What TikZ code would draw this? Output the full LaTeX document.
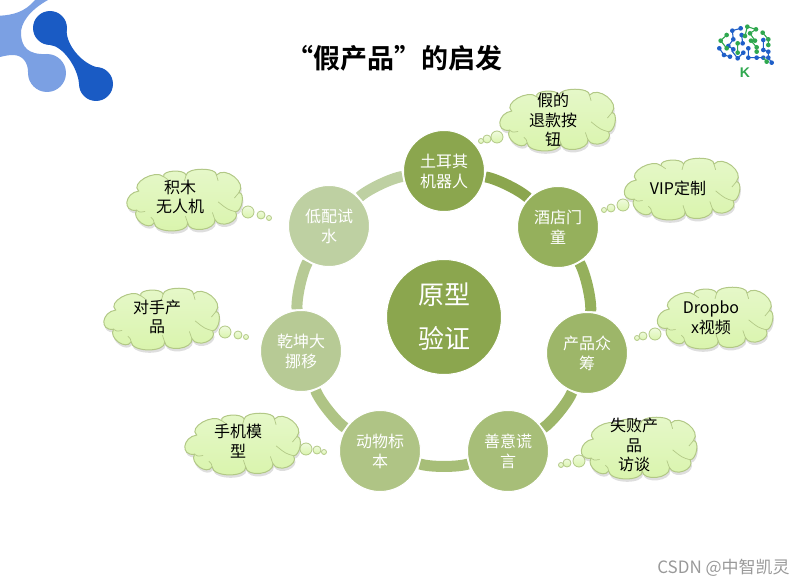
\documentclass[tikz,border=0pt]{standalone}
\usepackage{fontspec}
\setmainfont{Noto Sans CJK SC}
\newfontfamily\cjkb[BoldFont={Noto Sans CJK SC Bold}]{Noto Sans CJK SC}
\setsansfont{Liberation Sans}
\definecolor{ca}{HTML}{8BA64E}
\definecolor{cb}{HTML}{95B05C}
\definecolor{cc}{HTML}{9DB669}
\definecolor{cd}{HTML}{A7BE78}
\definecolor{ce}{HTML}{AFC485}
\definecolor{cf}{HTML}{B7CA95}
\definecolor{cg}{HTML}{BED0A2}
\definecolor{cloudedge}{HTML}{B2C886}
\definecolor{cloudtop}{HTML}{E6F8CA}
\definecolor{cloudmid}{HTML}{F0FBDE}
\definecolor{cloudbot}{HTML}{D9F4AC}
\definecolor{darkblue}{HTML}{1A5BC4}
\definecolor{lightblue}{HTML}{7BA0E3}
\definecolor{brainb}{HTML}{1F5FC8}
\definecolor{braing}{HTML}{2FA84F}
\newcommand{\cloudoutline}{(-47.7,-8.3)
 .. controls (-57,-16.2) and (-31,-31.2) .. (-21.7,-23.3)
 .. controls (-24,-29.8) and (-0.6,-31.5) .. (1.7,-25)
 .. controls (2.7,-33) and (34.3,-33) .. (33.3,-25)
 .. controls (42.2,-34.9) and (65.6,-16.6) .. (56.7,-6.7)
 .. controls (63.4,-6.7) and (60,13.3) .. (53.3,13.3)
 .. controls (58.9,23.3) and (37.3,31.7) .. (31.7,21.7)
 .. controls (32.7,32.8) and (4.3,36.1) .. (3.3,25)
 .. controls (4.5,36) and (-30.5,36) .. (-31.7,25)
 .. controls (-37.2,33.9) and (-55.5,20.6) .. (-50,11.7)
 .. controls (-64.9,13.8) and (-62.6,-6.2) .. (-47.7,-8.3) -- cycle}
\newcommand{\puffcloud}[2]{%
 \begin{scope}[shift={(#1,#2)},scale=.96]
  \fill[black,opacity=.13] [shift={(1,3)}] \cloudoutline;
  \path[top color=cloudtop,middle color=cloudmid,bottom color=cloudbot,draw=cloudedge,line width=1pt] \cloudoutline;
  \draw[cloudedge,line width=.7pt] (-50,11.7) .. controls (-47,14) .. (-41,13)
    (53.3,13.3) .. controls (45,11) .. (35,3)
    (31.7,21.7) .. controls (31,18) .. (29,14)
    (-31.7,25) .. controls (-32,22) .. (-35,19)
    (3.3,25) .. controls (3,21) .. (1,18)
    (56.7,-6.7) .. controls (55,-4) .. (52,-1)
    (33.3,-25) .. controls (34,-22) .. (35,-19)
    (1.7,-25) .. controls (1,-22) .. (0,-19)
    (-21.7,-23.3) .. controls (-20,-21.5) .. (-17,-20);
 \end{scope}}
\tikzset{
  x=1pt,y=-1pt,
  petal/.style={circle,draw=white,line width=1pt,minimum size=81pt,inner sep=0pt,align=center,text=white,font=\fontsize{16}{20}\selectfont},
  hub/.style={circle,draw=white,line width=1pt,minimum size=115pt,inner sep=0pt,align=center,text=white,font=\fontsize{26}{44}\selectfont,fill=ca},
  ringseg/.style={line width=11pt,shorten >=1pt,shorten <=1pt,bend left=18,looseness=.6},
  bub/.style={circle,draw=cloudedge,line width=.8pt,top color=cloudmid,bottom color=cloudbot,inner sep=0pt},
  bubl/.style={bub,minimum size=12pt},
  bubm/.style={bub,minimum size=8pt},
  bubs/.style={bub,minimum size=5pt},
  ctext/.style={align=center,text=black,font=\fontsize{16}{19.5}\selectfont},
}
\begin{document}
\begin{tikzpicture}
\useasboundingbox (0,0) rectangle (807,586);
% logo top-left
\fill[lightblue] (47,73) circle (19);
\fill[lightblue] (0,15.7) .. controls (13,15) and (25,12) .. (35,0) -- (48,0) .. controls (30,10) and (20,23) .. (21,35) .. controls (22,47) and (28,55) .. (47,54) -- (47,73) -- (28,72) .. controls (28,63) and (23,55) .. (13,55) .. controls (8,55) and (4,56) .. (0,57) -- cycle;
\fill[darkblue] (50,28) circle (17) (96,84) circle (17);
\fill[darkblue] (66.7,28) .. controls (65,43) and (80,62) .. (96,67) -- (79,84) .. controls (78,68) and (63,46) .. (50,45) -- cycle;
% title
\node[font=\cjkb\fontsize{27}{30}\selectfont\bfseries,text=black] (title) at (394.5,58) {“假产品”的启发};
% brain logo
\begin{scope}[shift={(700,10)},x=0.3333pt,y=-0.3333pt]
\draw[brainb,line width=1.1pt] (122,55)--(97,62)--(100,88)--(85,108)--(100,118) (58,115)--(72,135)--(90,140) (95,122)--(113,145)--(130,128) (145,115)--(145,143)--(190,143) (190,90)--(190,120)--(205,125)--(205,143)--(215,158) (125,75)--(128,100);
\foreach \p in {(122,55),(97,62),(100,88),(85,108),(100,118),(58,115),(72,135),(90,140),(113,145),(130,128),(145,115),(145,143),(170,143),(190,143),(190,90),(190,120),(205,125),(205,143),(215,158),(125,75),(128,100)}
  \fill[brainb] \p circle (7);
\draw[braing,line width=1.1pt] (80,75)--(62,92)--(80,115) (113,100)--(113,128) (135,78)--(142,50)--(168,58)--(150,70)--(165,92) (188,68)--(205,88)--(205,105) (153,92)--(170,112)--(170,125) (190,143)--(200,155);
\foreach \p in {(80,75),(62,92),(80,115),(113,100),(113,128),(135,78),(142,50),(168,58),(150,70),(165,92),(188,68),(205,88),(205,105),(153,92),(170,112),(170,125),(200,155)}
  \fill[braing] \p circle (7);
\node[font=\sffamily\fontsize{14}{14}\selectfont\bfseries,text=braing,inner sep=0pt] (k) at (135,188) {K};
\end{scope}
% petals
\node[hub,text depth=2pt] (hub) at (444,317) {原型\\验证};
\node[petal,fill=ca] (p1) at (444,171) {土耳其\\机器人};
\node[petal,fill=cb] (p2) at (558,227) {酒店门\\童};
\node[petal,fill=cc] (p3) at (587,353) {产品众\\筹};
\node[petal,fill=cd] (p4) at (508,451) {善意谎\\言};
\node[petal,fill=ce] (p5) at (380,451) {动物标\\本};
\node[petal,fill=cf] (p6) at (301,351) {乾坤大\\挪移};
\node[petal,fill=cg] (p7) at (329,226) {低配试\\水};
% ring
\draw[ringseg,ca] (p1) to (p2);
\draw[ringseg,cb] (p2) to (p3);
\draw[ringseg,cc] (p3) to (p4);
\draw[ringseg,cd] (p4) to (p5);
\draw[ringseg,ce] (p5) to (p6);
\draw[ringseg,cf] (p6) to (p7);
\draw[ringseg,cg] (p7) to (p1);
% clouds
\puffcloud{557.5}{119}
\node[ctext] (t1) at (553,120) {假的\\退款按\\钮};
\node[bubl] (c1a) at (497,137) {};
\node[bubm] (c1b) at (487,139) {};
\node[bubs] (c1c) at (481,141) {};
\puffcloud{682}{188}
\node[ctext] (t2) at (678,188) {VIP定制};
\node[bubl] (c2a) at (623,205) {};
\node[bubm] (c2b) at (611,208) {};
\node[bubs] (c2c) at (604,210) {};
\puffcloud{715}{317}
\node[ctext] (t3) at (711,318) {Dropbo\\x视频};
\node[bubl] (c3a) at (655,334) {};
\node[bubm] (c3b) at (643,336) {};
\node[bubs] (c3c) at (637,338) {};
\puffcloud{639}{447}
\node[ctext] (t4) at (634,445) {失败产\\品\\访谈};
\node[bubl] (c4a) at (579,461) {};
\node[bubm] (c4b) at (567,463) {};
\node[bubs] (c4c) at (561,465) {};
\puffcloud{242.5}{443}
\node[ctext] (t5) at (238,441) {手机模\\型};
\node[bubl] (c5a) at (306,449) {};
\node[bubm] (c5b) at (317,450) {};
\node[bubs] (c5c) at (324,452) {};
\puffcloud{161.5}{318}
\node[ctext] (t6) at (157,317) {对手产\\品};
\node[bubl] (c6a) at (225,332) {};
\node[bubm] (c6b) at (238,335) {};
\node[bubs] (c6c) at (246,337) {};
\puffcloud{184.5}{199}
\node[ctext] (t7) at (180,197) {积木\\无人机};
\node[bubl] (c7a) at (248,212) {};
\node[bubm] (c7b) at (261,215) {};
\node[bubs] (c7c) at (269,218) {};
% watermark
\node[text=gray!80,font=\fontsize{17}{17}\selectfont] (wm) at (723.5,568) {CSDN @中智凯灵};
\end{tikzpicture}
\end{document}
